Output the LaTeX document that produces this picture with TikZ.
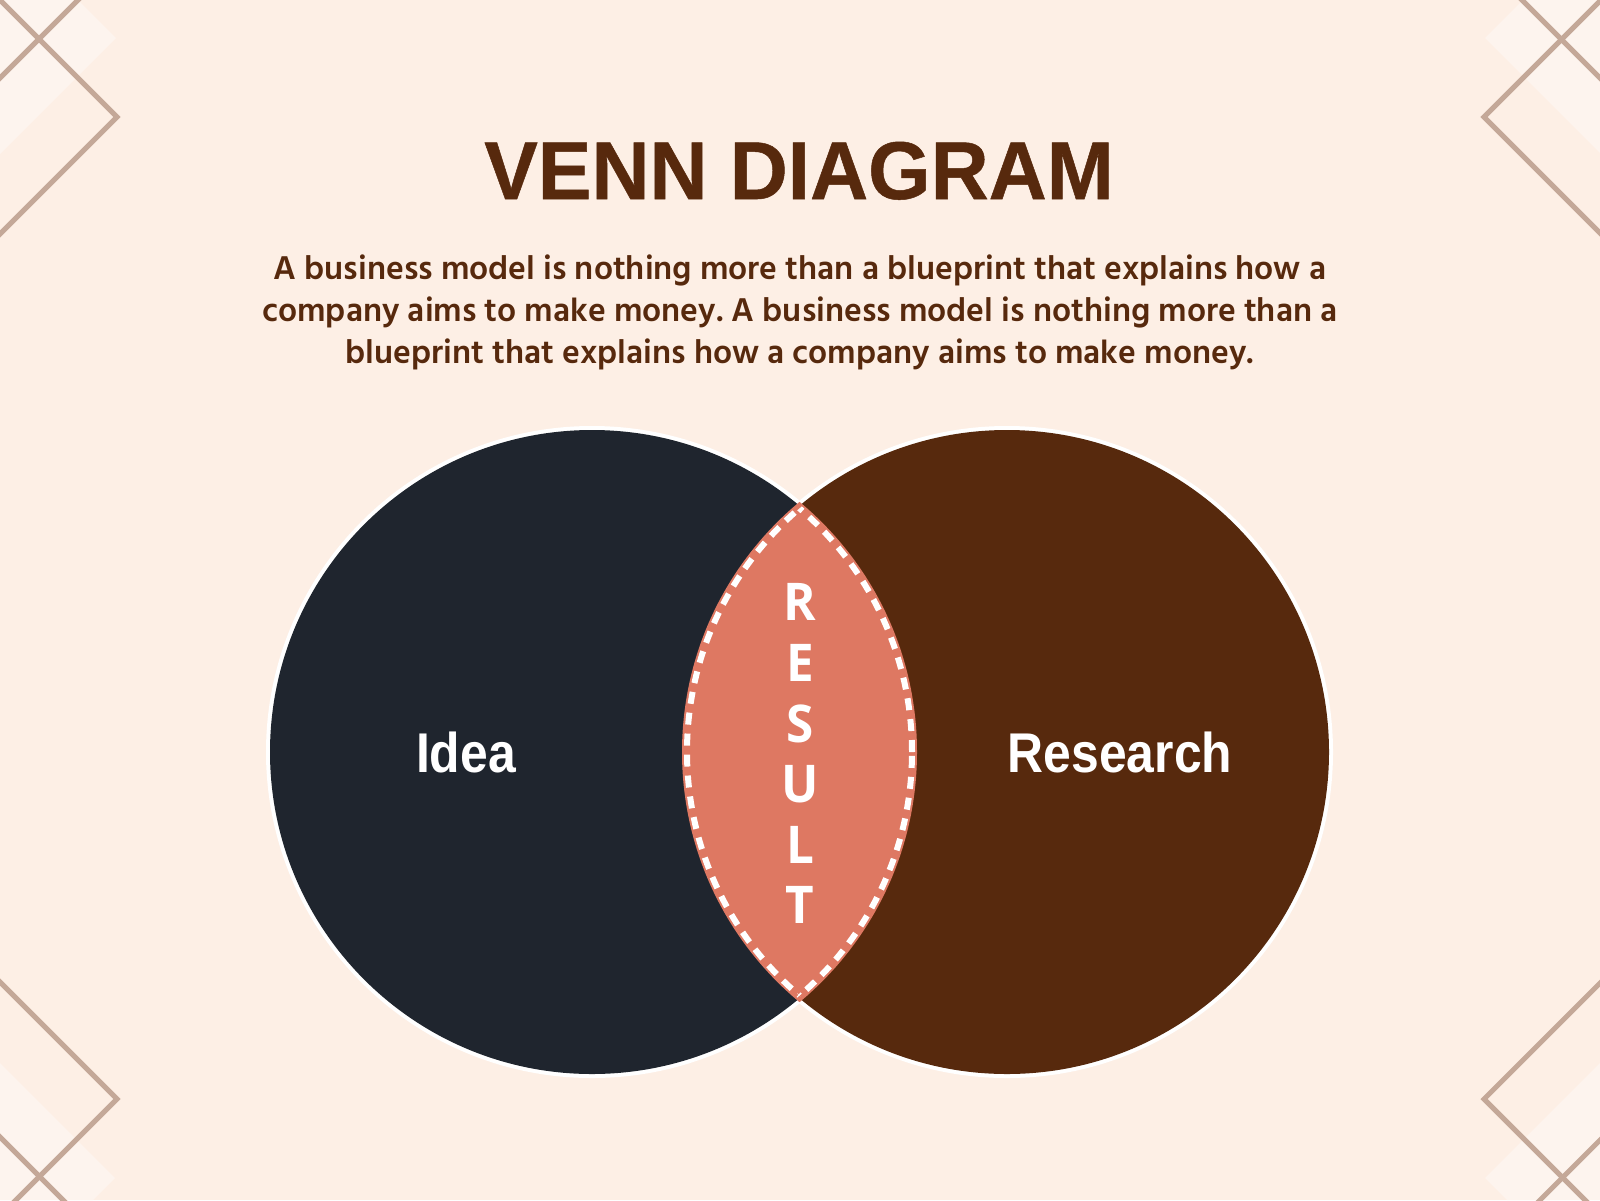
\documentclass[tikz,border=0pt]{standalone}
\usepackage{fontspec}
\setmainfont{Hind Siliguri}
\newfontfamily\titlefont[FakeStretch=0.98,FakeBold=0.6]{Liberation Sans Bold}
\newfontfamily\labelfont[FakeStretch=0.89]{Liberation Sans Bold}
\newfontfamily\resfont[FakeStretch=0.95]{Open Sans Bold}
\frenchspacing
\definecolor{bg}{HTML}{FDEFE5}
\definecolor{bglight}{HTML}{FDF4EE}
\definecolor{deco}{HTML}{C4A898}
\definecolor{navy}{HTML}{1F252E}
\definecolor{brownc}{HTML}{57290D}
\definecolor{salmon}{HTML}{DE7862}
\tikzset{
  decoline/.style={draw=deco, line width=2.5pt},
  lightpatch/.style={fill=bglight},
  titletext/.style={font=\titlefont\fontsize{41}{41}\selectfont, text=brownc, anchor=base, inner sep=0pt},
  bodytext/.style={font=\bfseries\fontsize{16.9}{16.9}\selectfont, text=brownc, anchor=base, inner sep=0pt},
  setlabel/.style={font=\labelfont\fontsize{28}{28}\selectfont, text=white, anchor=base, inner sep=0pt},
  resletter/.style={font=\resfont\fontsize{26}{26}\selectfont, text=white, anchor=base, inner sep=0pt},
  lensborder/.style={draw=white, line width=3pt, dash pattern=on 6pt off 4.5pt},
}
\begin{document}
\begin{tikzpicture}[x=0.5pt,y=-0.5pt]
\useasboundingbox (0,0) rectangle (1600,1200);
\fill[bg] (0,0) rectangle (1600,1200);
\begin{scope}
\clip (0,0) rectangle (1600,1200);
% light patches
\fill[lightpatch] (0,0) -- (78,0) -- (116,38) -- (0,154) -- cycle;
\fill[lightpatch] (0,1063) -- (115,1178) -- (93,1200) -- (0,1200) -- cycle;
\fill[lightpatch] (1523,0) -- (1600,0) -- (1600,153) -- (1485,38) -- cycle;
\fill[lightpatch] (1485,1178) -- (1600,1063) -- (1600,1200) -- (1507,1200) -- cycle;
% decorative lines
\draw[decoline] (-10,-10) -- (117,117) -- (-10,244);
\draw[decoline] (-10,88) -- (88,-10);
\draw[decoline] (-10,972) -- (117,1099) -- (6,1210);
\draw[decoline] (-10,1127) -- (73,1210);
\draw[decoline] (1611,-10) -- (1484,117) -- (1610,243);
\draw[decoline] (1512,-10) -- (1610,88);
\draw[decoline] (1610,973) -- (1484,1099) -- (1595,1210);
\draw[decoline] (1530,1210) -- (1610,1130);
\end{scope}
% title and text
\node[titletext] (title) at (799,199) {VENN DIAGRAM};
\node[bodytext] (l1) at (800,279) {A business model is nothing more than a blueprint that explains how a};
\node[bodytext] (l2) at (800,321) {company aims to make money. A business model is nothing more than a};
\node[bodytext] (l3) at (800,363) {blueprint that explains how a company aims to make money.};
% circles
\coordinate (cl) at (592,752);
\coordinate (cr) at (1007,752);
\fill[white] (cl) circle[radius=163pt];
\fill[white] (cr) circle[radius=163pt];
\fill[navy] (cl) circle[radius=161pt];
\fill[brownc] (cr) circle[radius=161pt];
\begin{scope}
\clip (cl) circle[radius=162.5pt];
\fill[salmon] (cr) circle[radius=162.5pt];
\end{scope}
\begin{scope}
\clip (cl) circle[radius=160pt];
\draw[lensborder] (cr) circle[radius=160pt];
\end{scope}
\begin{scope}
\clip (cr) circle[radius=160pt];
\draw[lensborder] (cl) circle[radius=160pt];
\end{scope}
% labels
\node[setlabel] (idea) at (466,772) {Idea};
\node[setlabel] (research) at (1120,772) {Research};
\node[resletter] (r1) at (800,620) {R};
\node[resletter] (r2) at (800,681) {E};
\node[resletter] (r3) at (800,742) {S};
\node[resletter] (r4) at (800,802) {U};
\node[resletter] (r5) at (800,863) {L};
\node[resletter] (r6) at (800,923) {T};
\end{tikzpicture}
\end{document}
